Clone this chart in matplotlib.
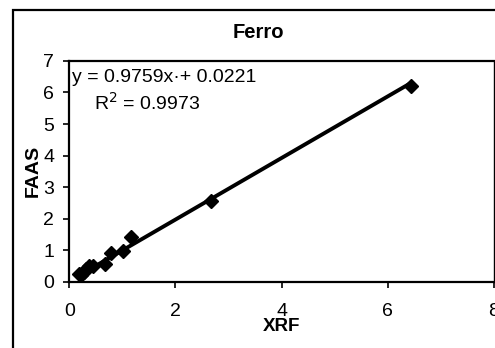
import matplotlib
matplotlib.use("Agg")
import matplotlib.pyplot as plt
from matplotlib.patches import Rectangle

# XRF vs FAAS values for iron
xrf = [0.18, 0.22, 0.27, 0.32, 0.38, 0.45, 0.68, 0.78, 1.02, 1.16, 2.67, 6.43]
faas = [0.25, 0.22, 0.30, 0.42, 0.50, 0.50, 0.58, 0.92, 0.97, 1.41, 2.55, 6.22]
slope, intercept = 0.9759, 0.0221
x_ticks = [0, 2, 4, 6, 8]
y_ticks = [0, 1, 2, 3, 4, 5, 6, 7]

plt.rcParams["font.family"] = ["Liberation Sans", "DejaVu Sans"]

fig = plt.figure(figsize=(4.95, 3.48), dpi=100)
ax = fig.add_axes([0.140, 0.190, 0.858, 0.635])

# outer chart-area border (runs off the right and bottom of the crop)
fig.patches.append(Rectangle((12.5 / 495, -0.2), 1.2, 1.2 - 10 / 348,
                             transform=fig.transFigure, fill=False,
                             edgecolor="black", linewidth=1.6))

fit_x = [min(xrf), max(xrf)]
fit_y = [slope * v + intercept for v in fit_x]
ax.plot(fit_x, fit_y, "-", color="black", linewidth=2.8, zorder=2)
ax.plot(xrf, faas, "D", color="black", markersize=7, zorder=3)

ax.set_xlim(0, 8)
ax.set_ylim(0, 7)
ax.set_xticks(x_ticks)
ax.set_yticks(y_ticks)
ax.tick_params(labelsize=14, length=4, width=1.2)
ax.tick_params(axis="x", pad=11)
ax.tick_params(axis="y", pad=7)
for s in ax.spines.values():
    s.set_linewidth(1.6)
ax.spines["right"].set_linewidth(1.0)

ax.set_xlabel("XRF", fontsize=13.5, fontweight="bold", labelpad=-1)
ax.set_ylabel("FAAS", fontsize=14, fontweight="bold", labelpad=1)
fig.text(258 / 495, 1 - 32 / 348, "Ferro", ha="center", va="center",
         fontsize=14.5, fontweight="bold")

ax.text(0.006, 0.927, "y = 0.9759x·+ 0.0221", transform=ax.transAxes,
        ha="left", va="center", fontsize=14)
ax.text(0.058, 0.81, "R$^2$ = 0.9973", transform=ax.transAxes,
        ha="left", va="center", fontsize=14)

fig.savefig("out.png", dpi=100)
